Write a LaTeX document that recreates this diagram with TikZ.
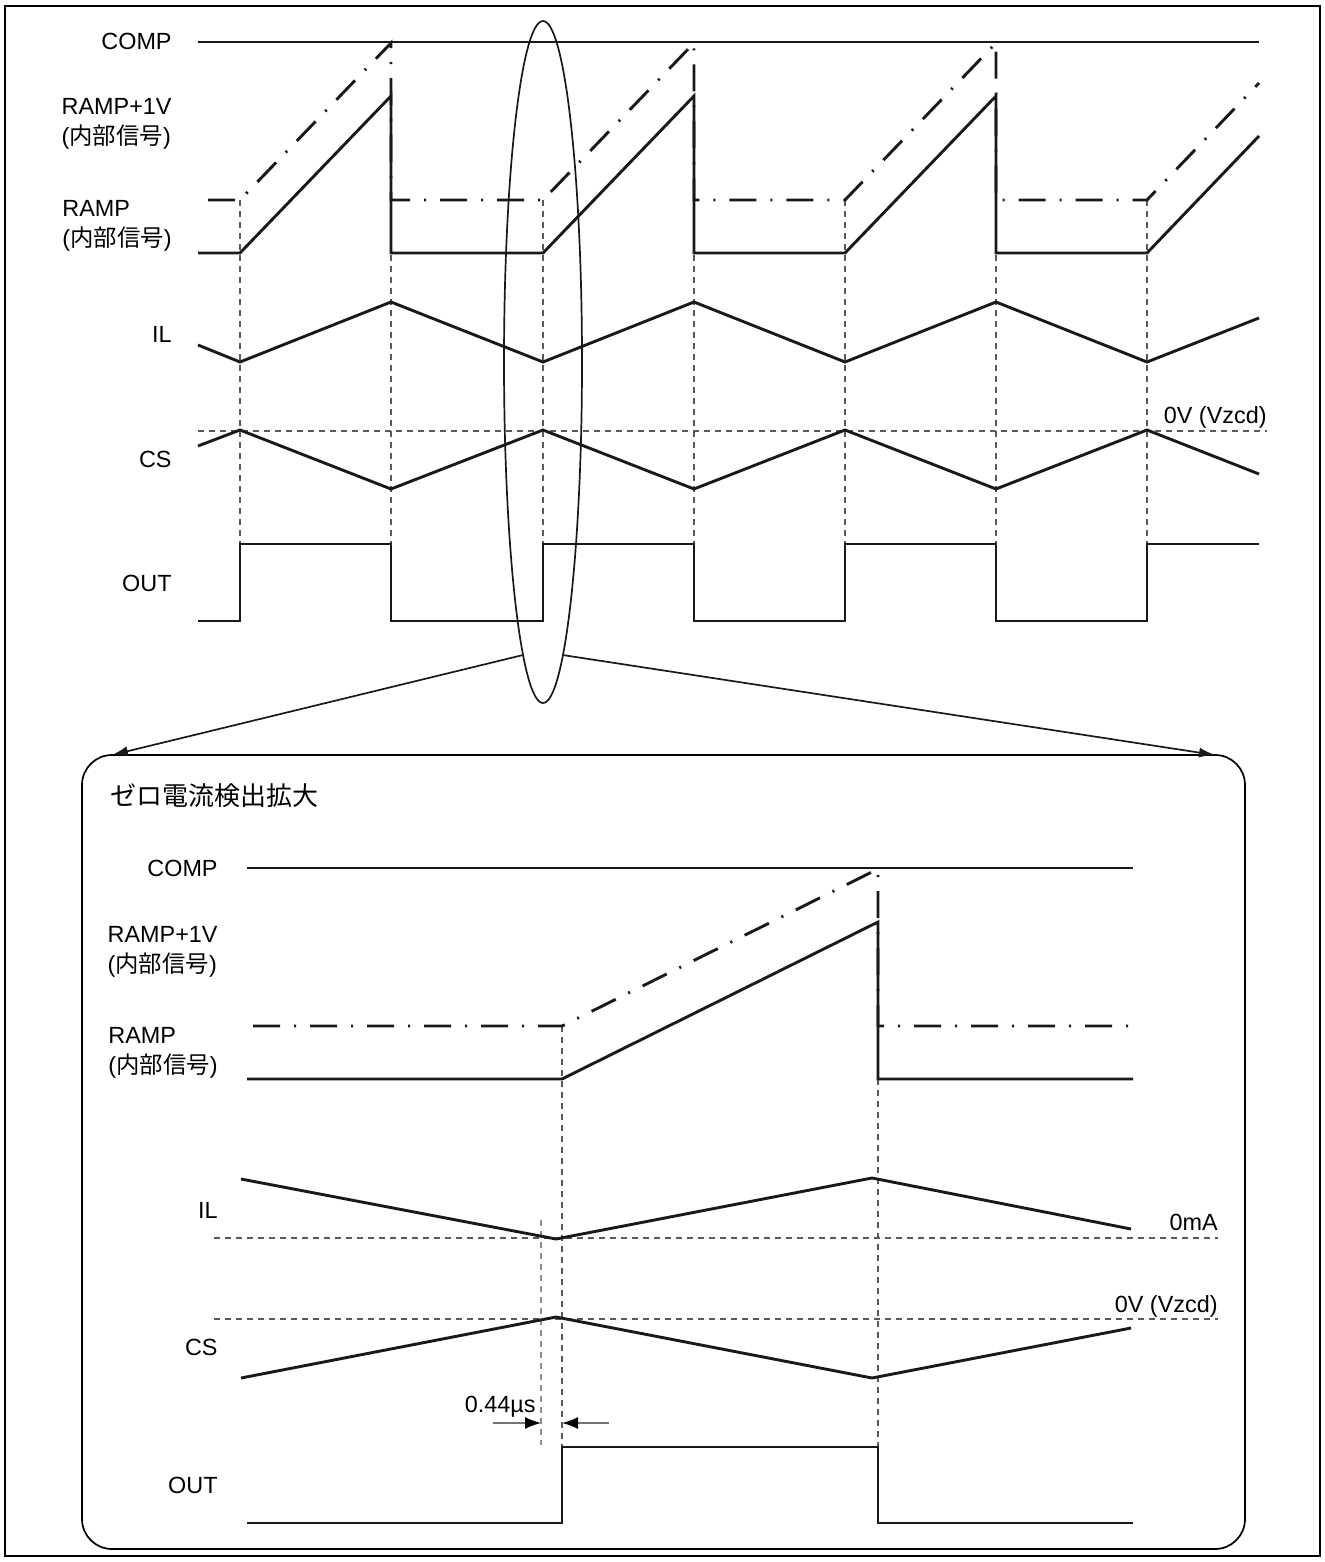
\documentclass[tikz,border=0pt]{standalone}
\usepackage{fontspec}
\setmainfont{Liberation Sans}
\newfontfamily\jp{Noto Sans CJK JP}
\usetikzlibrary{arrows.meta,shapes.geometric}
\begin{document}
\begin{tikzpicture}[x=0.5pt,y=-0.5pt,
  wave/.style={line width=1.45pt, line join=miter, draw=black!90},
  dashdot/.style={line width=1.45pt, draw=black!90, dash pattern=on 13.5pt off 7pt on 1pt off 7pt},
  guide/.style={line width=0.55pt, draw=black!65, dash pattern=on 3pt off 2.5pt},
  guidelight/.style={guide, draw=black!45},
  thinline/.style={line width=0.85pt, draw=black!90},
  dimline/.style={line width=0.7pt, draw=black!55, -{Latex[length=8pt,width=6pt,black]}},
  lab/.style={anchor=base east, inner sep=0pt, font=\fontsize{11.7}{15}\selectfont},
  lab2/.style={anchor=north east, inner sep=0pt, align=left, font=\fontsize{11.7}{15}\selectfont},
  note/.style={anchor=base east, inner sep=0pt, font=\fontsize{11.7}{15}\selectfont},
  title/.style={anchor=west, inner sep=0pt, font=\fontsize{13}{15}\selectfont\jp}
]
\useasboundingbox (0,0) rectangle (1325,1562);
% outer border
\draw[line width=1.3pt] (5,6) rectangle (1320,1556);

% ================= TOP SECTION =================
\draw[guide] (198,431) -- (1267,431);
\foreach \x in {240,391,543,694,845,996,1147} \draw[guide] (\x,200) -- (\x,544);

\draw[wave] (198,42) -- (1259,42);
\draw[dashdot] (208,200) -- (240,200) -- (391,43) -- (391,200) -- (543,200) -- (694,43) -- (694,200) -- (845,200) -- (996,43) -- (996,200) -- (1147,200) -- (1259,83);
\draw[wave] (198,253) -- (240,253) -- (391,96) -- (391,253) -- (543,253) -- (694,96) -- (694,253) -- (845,253) -- (996,96) -- (996,253) -- (1147,253) -- (1259,136);
\draw[wave] (198,345) -- (240,362) -- (391,302) -- (543,362) -- (694,302) -- (845,362) -- (996,302) -- (1147,362) -- (1259,318);
\draw[wave] (198,446) -- (240,430) -- (391,489) -- (543,430) -- (694,489) -- (845,430) -- (996,489) -- (1147,430) -- (1259,474);
\draw[wave] (198,621) -- (240,621) -- (240,544) -- (391,544) -- (391,621) -- (543,621) -- (543,544) -- (694,544) -- (694,621) -- (845,621) -- (845,544) -- (996,544) -- (996,621) -- (1147,621) -- (1147,544) -- (1259,544);

\node[lab] (tcomp) at (172,50) {COMP};
\node[lab2] (tramp1) at (172,98) {RAMP+1V\\({\jp 内部信号})};
\node[lab2] (tramp) at (172,200) {RAMP\\({\jp 内部信号})};
\node[lab] (til) at (172,342) {IL};
\node[lab] (tcs) at (172,467) {CS};
\node[lab] (tout) at (172,591) {OUT};
\node[note] (tzcd) at (1267,423) {0V (Vzcd)};

% ellipse and zoom connectors
\node[draw, ellipse, thinline, minimum width=39pt, minimum height=341pt, inner sep=0pt] (ell) at (543,362) {};
\draw[line width=0.85pt, rounded corners=15pt] (82,755) rectangle (1245,1549);
\coordinate (boxtl) at (112,755);
\coordinate (boxtr) at (1215,755);
\draw[thinline, -{Latex[length=8pt,width=5pt]}] (ell.-94.3) -- (boxtl);
\draw[thinline, -{Latex[length=8pt,width=5pt]}] (ell.-86.1) -- (boxtr);

\node[title] (ttl) at (110,796) {ゼロ電流検出拡大};

% ================= BOTTOM SECTION =================
\draw[guide] (214,1238) -- (1218,1238);
\draw[guide] (214,1319) -- (1218,1319);
\draw[guide] (562,1026) -- (562,1447);
\draw[guide] (878,1079) -- (878,1447);
\draw[guidelight] (541,1220) -- (541,1445);

\draw[wave] (247,868) -- (1133,868);
\draw[dashdot] (253,1026) -- (562,1026) -- (878,869) -- (878,1026) -- (1133,1026);
\draw[wave] (247,1079) -- (562,1079) -- (878,922) -- (878,1079) -- (1133,1079);
\draw[wave] (241,1179) -- (556,1239) -- (872,1178) -- (1131,1229);
\draw[wave] (241,1378) -- (556,1317) -- (872,1378) -- (1131,1328);
\draw[wave] (247,1523) -- (562,1523) -- (562,1447) -- (878,1447) -- (878,1523) -- (1133,1523);

\coordinate (dl) at (541,1423);
\coordinate (dr) at (562,1423);
\coordinate (dls) at (493,1423);
\coordinate (drs) at (609,1423);
\draw[dimline] (dls) -- (dl);
\draw[dimline] (drs) -- (dr);
\node[note] (tdel) at (536,1412) {0.44µs};

\node[lab] (bcomp) at (218,876) {COMP};
\node[lab2] (bramp1) at (218,926) {RAMP+1V\\({\jp 内部信号})};
\node[lab2] (bramp) at (218,1027) {RAMP\\({\jp 内部信号})};
\node[lab] (bil) at (218,1218) {IL};
\node[lab] (bcs) at (218,1355) {CS};
\node[lab] (bout) at (218,1493) {OUT};
\node[note] (bma) at (1218,1230) {0mA};
\node[note] (bzcd) at (1218,1312) {0V (Vzcd)};
\end{tikzpicture}
\end{document}
